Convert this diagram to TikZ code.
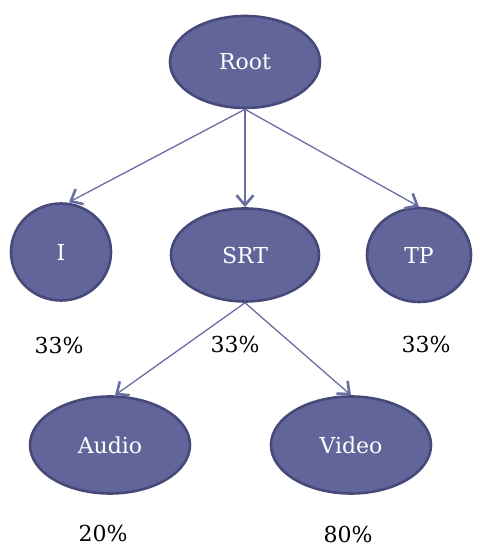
\documentclass[tikz,border=0pt]{standalone}
\usepackage{fontspec}
\setmainfont{DejaVu Serif}
\usetikzlibrary{shapes.geometric,arrows.meta}
\definecolor{nodefill}{HTML}{62659A}
\definecolor{nodeline}{HTML}{464979}
\definecolor{edgecol}{HTML}{6A6DA2}
\begin{document}
\begin{tikzpicture}[x=1pt,y=1pt, line join=round, line cap=round,
	leaf/.style={ellipse, fill=nodefill, draw=nodeline, line width=2.6pt, inner sep=0pt, text=white, font=\fontsize{22}{25}\selectfont},
	pct/.style={font=\fontsize{22}{25}\selectfont},
	edge/.style={draw=edgecol, line width=1.3pt, -{Straight Barb[length=10pt,width=17pt,line width=2.6pt]}}]
	\useasboundingbox (0,0) rectangle (479,548);
	\node[leaf, minimum width=150, minimum height=92] (root) at (245,486) {Root};
	\node[leaf, minimum width=100, minimum height=97] (i) at (61,296) {I};
	\node[leaf, minimum width=148, minimum height=93] (srt) at (245,293) {SRT};
	\node[leaf, minimum width=104, minimum height=94] (tp) at (419,293) {TP};
	\node[leaf, minimum width=160, minimum height=97] (audio) at (110,103) {Audio};
	\node[leaf, minimum width=160, minimum height=97] (video) at (351,103) {Video};
	\node[pct] (pi) at (59,203) {33\%};
	\node[pct] (psrt) at (235,204) {33\%};
	\node[pct] (ptp) at (426,204) {33\%};
	\node[pct] (paudio) at (103,15) {20\%};
	\node[pct] (pvideo) at (348,14) {80\%};
	\draw[edge] (root.south) -- ([xshift=8]i.north);
	\draw[edge] (root.south) -- (srt.north);
	\draw[edge] (root.south) -- (tp.north);
	\draw[edge] (srt.south) -- ([xshift=5]audio.north);
	\draw[edge] (srt.south) -- (video.north);
\end{tikzpicture}
\end{document}
